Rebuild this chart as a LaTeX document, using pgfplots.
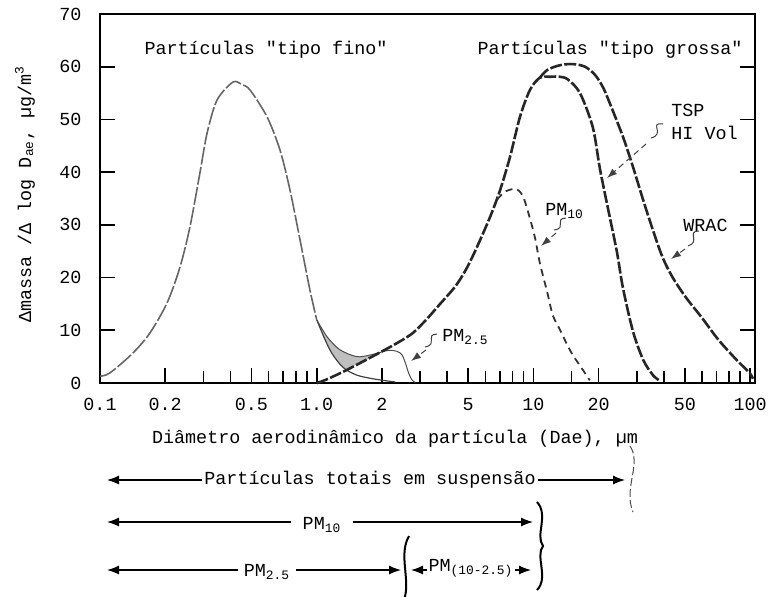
\documentclass[border=0pt]{standalone}
\usepackage{fontspec}
\setmonofont{Liberation Mono}
\renewcommand{\familydefault}{\ttdefault}
\usepackage{pgfplots}
\pgfplotsset{compat=1.18}
\usetikzlibrary{arrows.meta}

\begin{document}
\ttfamily\fontsize{9.2}{11}\selectfont
\begin{tikzpicture}
\path[use as bounding box] (-50pt,-106.5pt) rectangle (335pt,191.5pt);
\begin{axis}[
  scale only axis, width=327.5pt, height=184.5pt,
  xmode=log, xmin=0.1, xmax=105.3, ymin=0, ymax=70,
  xtick={0.1,0.2,0.5,1,2,5,10,20,50,100},
  xticklabels={0.1,0.2,0.5,1.0,2,5,10,20,50,100},
  minor xtick={0.3,0.4,0.6,0.7,0.8,0.9,3,4,6,7,8,9,15,30,40,60,70,80,90},
  ytick={0,10,...,70},
  tick align=inside, xtick pos=left, ytick pos=both,
  major tick length=7.5pt, minor tick length=6pt,
  every tick/.style={black, line width=0.8pt},
  axis line style={line width=1pt},
  /pgf/number format/assume math mode=true,
  yticklabel style={xshift=-6pt},
  xticklabel style={yshift=-4.5pt},
  xlabel={Diâmetro aerodinâmico da partícula (Dae), µm},
  ylabel={Δmassa /Δ log D\textsubscript{ae}, µg/m\textsuperscript{3}},
  xlabel style={at={(axis description cs:0.4504,-0.1518)}, anchor=center},
  ylabel style={at={(axis description cs:-0.1145,0.512)}, anchor=center},
  clip=false,
]
% shaded area between the two curves near 1-2 um
\addplot[fill=black!25, draw=none] coordinates {
  (1.0,12.0) (1.06,10.2) (1.12,8.7) (1.2,7.4) (1.28,6.3) (1.4,5.5) (1.53,5.0)
  (1.65,5.0) (1.76,5.3) (1.96,5.8) (1.76,4.7) (1.53,3.5) (1.36,2.6)
  (1.25,4.2) (1.15,6.3) (1.07,8.8) (1.0,12.0)} -- cycle;

% fine mode
\addplot[smooth, tension=0.5, black!60, line width=0.8pt, dash pattern=on 9pt off 1.2pt] coordinates {
  (0.1,1.3) (0.111,1.9) (0.142,5.7) (0.170,9.5) (0.204,15.2) (0.234,22.0)
  (0.260,29.6) (0.289,39.8) (0.312,47.4) (0.347,53.7) (0.411,57.1) (0.452,56.6)
  (0.492,55.6) (0.590,50.5) (0.677,44.2) (0.753,36.6) (0.838,27.1) (0.931,17.6) (1.0,12.0)};

% fine mode tail
\addplot[smooth, tension=0.5, black!75, line width=0.6pt] coordinates {
  (1.0,12.0) (1.15,6.3) (1.32,3.0) (1.53,1.5) (1.82,0.8) (2.11,0.4) (2.3,0.2)};

% PM2.5 (upper branch)
\addplot[smooth, tension=0.5, black!70, line width=0.5pt] coordinates {
  (1.0,12.0) (1.12,8.7) (1.28,6.3) (1.53,5.0) (1.76,5.3) (1.96,5.8) (2.15,6.2)
  (2.35,6.0) (2.48,5.3) (2.58,3.5) (2.66,1.8) (2.75,0.6) (2.85,0.1)};

% coarse mode, TSP HI Vol
\addplot[smooth, tension=0.5, black!85, line width=1.3pt, dash pattern=on 6pt off 1.2pt] coordinates {
  (1.0,0) (1.1,0.6) (1.38,2.5) (1.96,5.8) (2.4,7.8) (2.78,9.5) (3.2,12.0)
  (3.71,15.0) (4.26,17.8) (4.58,19.6) (5.0,22.3) (5.49,25.8) (6.31,31.5)
  (7.02,36.6) (7.8,42.9) (8.67,50.5) (9.64,55.6) (10.7,57.9) (12.0,58.1)
  (13.2,58.1) (14.4,57.6) (16.4,55.0) (18.8,48.5) (20.3,40.5) (22.5,31.5)
  (24.3,24.8) (25.9,18.0) (28.8,9.8) (32.1,4.4) (35.6,1.5) (38.4,0.4)};

% WRAC
\addplot[smooth, tension=0.5, black!85, line width=1.3pt, dash pattern=on 6pt off 1.2pt] coordinates {
  (10.7,57.9) (11.6,59.4) (13.3,60.3) (15.2,60.5) (17.3,60.0) (19.3,58.4)
  (21.0,56.0) (22.5,53.1) (25.9,46.7) (28.8,41.0) (32.1,34.7) (35.6,29.0) (39.4,23.9)
  (43.8,20.1) (50.4,16.3) (59.6,12.5) (71.4,8.2) (86.5,4.4) (99.5,1.9) (103,0.8)};

% PM10
\addplot[smooth, tension=0.5, black!80, line width=0.9pt, dash pattern=on 3.5pt off 2.5pt] coordinates {
  (6.8,34.8) (7.4,36.3) (8.3,36.8) (8.95,35.4) (9.64,31.2) (10.2,27.3)
  (10.7,22.8) (11.6,17.1) (12.3,12.8) (13.3,10.0) (14.3,7.3) (15.2,5.3)
  (16.9,2.5) (18.2,0.5)};
\end{axis}

% annotations, in pixel units of the reference (axis box from (100,14) to (755,383))
\begin{scope}[shift={(-50pt,191.5pt)}, x=0.5pt, y=-0.5pt]
  \node at (266,50) {Partículas "tipo fino"};
  \node at (610,50) {Partículas "tipo grossa"};
  \node[anchor=west, inner sep=0pt] at (671,110) {TSP};
  \node[anchor=west, inner sep=0pt] at (671,133) {HI Vol};
  \node[anchor=west, inner sep=0pt] at (683,225) {WRAC};
  \node[anchor=west, inner sep=0pt] at (545,211) {PM\textsubscript{10}};
  \node[anchor=west, inner sep=0pt] at (442,337) {PM\textsubscript{2.5}};

  \begin{scope}[black!75, line width=0.5pt]
    \draw (663,124) .. controls (648,122) and (666,134) .. (651,138);
    \draw[dash pattern=on 3pt off 2pt, -{Latex[length=5pt,width=3.5pt]}] (646,144) -- (607,178);
    \draw (699,231) .. controls (686,231) and (701,242) .. (688,246);
    \draw[dash pattern=on 3pt off 2pt, -{Latex[length=5pt,width=3.5pt]}] (685,249) -- (671,259);
    \draw (566,218) .. controls (553,219) and (568,228) .. (554,230);
    \draw[dash pattern=on 3pt off 2pt, -{Latex[length=5pt,width=3.5pt]}] (556,233) -- (541,246);
    \draw (437,334) .. controls (424,335) and (439,344) .. (425,347);
    \draw[dash pattern=on 3pt off 2pt, -{Latex[length=5pt,width=3.5pt]}] (426,350) -- (411,361);
  \end{scope}

  \begin{scope}[line width=0.6pt, {Latex[length=6pt,width=4.5pt]}-{Latex[length=6pt,width=4.5pt]}]
    \draw (107,480) -- (625,480);
    \draw (107,522) -- (533,522);
    \draw (107,570) -- (401,570);
    \draw (411,570) -- (531,570);
  \end{scope}
  \node[fill=white, inner xsep=1pt, inner ysep=2pt] at (370,480) {Partículas totais em suspensão};
  \node[fill=white, inner xsep=6pt, inner ysep=2pt] at (322,525) {PM\textsubscript{10}};
  \node[fill=white, inner xsep=3pt, inner ysep=2pt] at (267,572) {PM\textsubscript{2.5}};
  \node[fill=white, inner xsep=1pt, inner ysep=2pt] at (471,568) {PM\textsubscript{(10-2.5)}};

  \draw[black!70, line width=0.5pt, dash pattern=on 4pt off 1.5pt] (630,446) .. controls (642,464) and (623,488) .. (633,512);
  \draw[line width=1pt] (537,502) .. controls (549,515) and (535,535) .. (543,546) .. controls (535,556) and (549,578) .. (537,590);
  \draw[line width=1pt] (409,536) .. controls (398,555) and (411,580) .. (404,600);
\end{scope}
\end{tikzpicture}
\end{document}
